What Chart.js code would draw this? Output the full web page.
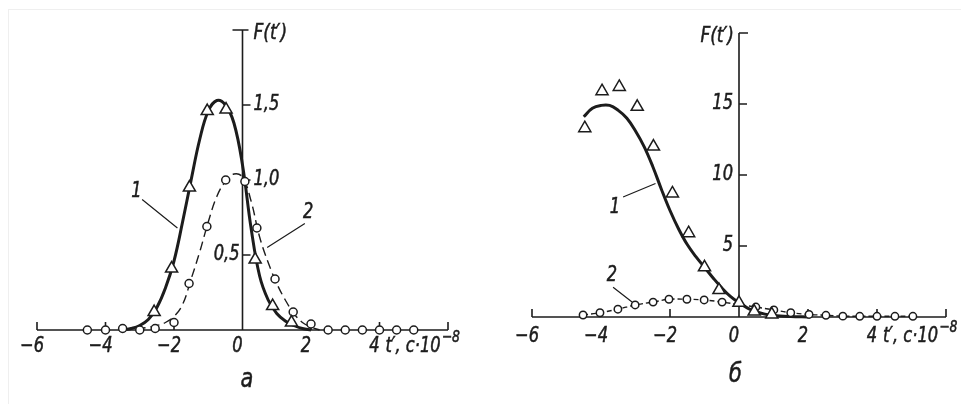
<!DOCTYPE html>
<html>
<head>
<meta charset="utf-8">
<script src="https://cdn.jsdelivr.net/npm/chart.js@4.4.1/dist/chart.umd.min.js"></script>
<style>
  body { margin: 0; background: #fff; }
  #wrap { position: relative; width: 961px; height: 404px; overflow: hidden; background: #fff; }
  #frame { position: absolute; left: 8px; top: 9px; right: -2px; bottom: -2px; border-top: 1px solid #efefef; border-left: 1px solid #efefef; }
  .panel { position: absolute; top: 0; height: 404px; }
</style>
</head>
<body>
<div id="wrap">
  <div id="frame"></div>
  <div class="panel" style="left:0;width:480px"><canvas id="chartA" width="480" height="404"></canvas></div>
  <div class="panel" style="left:480px;width:481px"><canvas id="chartB" width="481" height="404"></canvas></div>
</div>
<script>
const INK = '#1c1c1c';
const FONT = '"Liberation Sans Narrow", "DejaVu Sans Condensed", "DejaVu Sans", sans-serif';
const SX = 0.86; // squeeze text horizontally, the drawing font is narrow

// shared axis texts
const xTickValues = [-6, -4, -2, 0, 2, 4, 6];
const xTickLabels = ['−6', '−4', '−2', '0', '2', '4', ''];
const xUnitText = "t′, c·10";
const xUnitExp = '−8';
const yTitle = "F(t′)";

// panel a
const aYTicks = [0.5, 1.0, 1.5];
const aYLabels = ['0,5', '1,0', '1,5'];
const aYSide = ['left', 'right', 'right'];
const aTriT = [-2.58, -2.07, -1.55, -1.03, -0.48, 0.37, 0.88, 1.43];
const aTriF = [0.12, 0.41, 0.95, 1.46, 1.47, 0.47, 0.16, 0.05];
const aCircT = [-4.53, -4.0, -3.5, -3.0, -2.55, -2.0, -1.56, -1.04, -0.49, 0.07, 0.42, 0.95, 1.48, 2.0, 2.5, 3.0, 3.5, 4.0, 4.5, 5.0];
const aCircF = [0, 0, 0.01, 0, 0.01, 0.05, 0.31, 0.69, 1.0, 0.99, 0.68, 0.34, 0.12, 0.04, 0, 0, 0, 0, 0, 0];
const aCurve1T = [-3.5, -3.25, -3.0, -2.75, -2.5, -2.25, -2.0, -1.75, -1.5, -1.25, -1.0, -0.75, -0.5, -0.25, 0, 0.25, 0.5, 0.75, 1.0, 1.25, 1.5, 1.75, 2.0];
const aCurve1F = [0, 0.01, 0.03, 0.07, 0.15, 0.28, 0.46, 0.72, 1.0, 1.27, 1.46, 1.53, 1.5, 1.38, 1.1, 0.68, 0.36, 0.2, 0.11, 0.06, 0.03, 0.01, 0];
const aCurve2T = [-3.5, -3.0, -2.5, -2.25, -2.0, -1.75, -1.5, -1.25, -1.0, -0.75, -0.5, -0.25, 0, 0.25, 0.5, 0.75, 1.0, 1.25, 1.5, 1.75, 2.0, 2.25];
const aCurve2F = [0, 0.01, 0.03, 0.05, 0.09, 0.17, 0.34, 0.52, 0.72, 0.89, 0.99, 1.04, 1.02, 0.86, 0.62, 0.45, 0.31, 0.2, 0.11, 0.05, 0.02, 0];

// panel b
const bYTicks = [5, 10, 15];
const bYLabels = ['5', '10', '15'];
const bYSide = ['left', 'left', 'left'];
const bTriT = [-4.47, -3.97, -3.47, -2.95, -2.48, -1.93, -1.46, -1.0, -0.58, 0.0, 0.44, 0.95];
const bTriF = [13.3, 15.9, 16.2, 14.8, 12.0, 8.7, 5.9, 3.5, 1.9, 1.0, 0.38, 0.18];
const bCircT = [-4.52, -4.03, -3.51, -3.01, -2.49, -2.03, -1.51, -1.01, -0.49, 0.49, 1.01, 1.5, 2.03, 2.52, 3.01, 3.5, 4.0, 4.52, 5.04];
const bCircF = [0.14, 0.3, 0.55, 0.85, 1.05, 1.25, 1.25, 1.2, 1.05, 0.7, 0.5, 0.3, 0.18, 0.12, 0.06, 0.05, 0.05, 0.05, 0.05];
const bCurve1T = [-4.5, -4.25, -4.0, -3.75, -3.5, -3.25, -3.0, -2.75, -2.5, -2.25, -2.0, -1.75, -1.5, -1.25, -1.0, -0.75, -0.5, -0.25, 0, 0.25, 0.5, 0.75, 1.0, 1.5, 2.0];
const bCurve1F = [14.1, 14.7, 14.9, 14.9, 14.55, 14.0, 13.1, 12.0, 10.6, 9.0, 7.5, 6.2, 5.1, 4.25, 3.5, 2.75, 2.05, 1.45, 1.0, 0.63, 0.37, 0.2, 0.1, 0.03, 0];

function pts(T, F) {
    return T.map((t, i) => ({ x: t, y: F[i] }));
}

function font(size) {
    return 'italic ' + size + 'px ' + FONT;
}

// draws squeezed italic text, returns its drawn width
function drawText(ctx, str, x, y, align, size) {
    ctx.save();
    ctx.font = font(size);
    const w = ctx.measureText(str).width * SX;
    const left = align === 'center' ? x - w / 2 : align === 'right' ? x - w : x;
    ctx.translate(left, y);
    ctx.scale(SX, 1);
    ctx.textAlign = 'left';
    ctx.textBaseline = 'middle';
    ctx.fillStyle = INK;
    ctx.strokeStyle = INK;
    ctx.lineWidth = 0.5;
    ctx.fillText(str, 0, 0);
    ctx.strokeText(str, 0, 0);
    ctx.restore();
    return w;
}

const axesPlugin = {
    id: 'axes',
    beforeDatasetsDraw(chart, args, o) {
        const { ctx } = chart;
        const xs = chart.scales.x, ys = chart.scales.y;
        const px = v => xs.getPixelForValue(v), py = v => ys.getPixelForValue(v);
        const x0 = px(0), y0 = py(0), yTop = py(ys.max);
        ctx.save();
        ctx.strokeStyle = INK;
        ctx.lineWidth = 1.6;
        ctx.beginPath();
        ctx.moveTo(px(xs.min), y0);
        ctx.lineTo(px(xs.max), y0);
        xTickValues.forEach(v => {
            if (v === 0) return;
            ctx.moveTo(px(v), y0);
            ctx.lineTo(px(v), y0 - 8);
        });
        ctx.moveTo(x0, y0);
        ctx.lineTo(x0, yTop);
        o.yTicks.forEach(v => {
            ctx.moveTo(x0, py(v));
            ctx.lineTo(x0 + 8, py(v));
        });
        ctx.moveTo(x0 + o.topTick[0], yTop);
        ctx.lineTo(x0 + o.topTick[1], yTop);
        ctx.stroke();

        // leader lines for curve numbers
        ctx.lineWidth = 1.2;
        ctx.beginPath();
        o.notes.forEach(n => {
            ctx.moveTo(px(n.from[0]), py(n.from[1]));
            ctx.lineTo(px(n.to[0]), py(n.to[1]));
        });
        ctx.stroke();
        ctx.restore();
    },
    afterDatasetsDraw(chart, args, o) {
        const { ctx } = chart;
        const xs = chart.scales.x, ys = chart.scales.y;
        const px = v => xs.getPixelForValue(v), py = v => ys.getPixelForValue(v);
        const x0 = px(0), y0 = py(0), yTop = py(ys.max);
        const ly = y0 + o.xLabelDy;

        xTickValues.forEach((v, i) => {
            if (xTickLabels[i]) drawText(ctx, xTickLabels[i], px(v) - 5, ly, 'center', 21);
        });
        const ux = px(4) + 6;
        const uw = drawText(ctx, xUnitText, ux, ly, 'left', 21);
        drawText(ctx, xUnitExp, ux + uw + 1, ly - 9, 'left', 16);

        o.yTicks.forEach((v, i) => {
            if (o.ySide[i] === 'right') drawText(ctx, o.yLabels[i], x0 + 11, py(v), 'left', 21);
            else drawText(ctx, o.yLabels[i], x0 + o.leftLabelDx, py(v), 'right', 21);
        });

        if (o.titleSide === 'right') drawText(ctx, yTitle, x0 + 11, yTop + 3, 'left', 22);
        else drawText(ctx, yTitle, x0 - 5, yTop + 3, 'right', 22);

        o.notes.forEach(n => drawText(ctx, n.text, px(n.at[0]), py(n.at[1]), 'center', 21));

        drawText(ctx, o.caption, px(o.captionT), y0 + o.captionDy, 'center', 27);
    }
};

function makeChart(id, cfg) {
    return new Chart(document.getElementById(id), {
        type: 'scatter',
        data: {
            datasets: [
                { data: pts(cfg.triT, cfg.triF), pointStyle: 'triangle', pointRadius: 7, borderWidth: 1.5,
                  borderColor: INK, backgroundColor: '#fff', clip: false },
                { data: pts(cfg.circT, cfg.circF), pointStyle: 'circle', pointRadius: cfg.circR, borderWidth: 1.5,
                  borderColor: INK, backgroundColor: '#fff', clip: false },
                { data: pts(cfg.c1T, cfg.c1F), showLine: true, pointRadius: 0, borderWidth: 3,
                  borderColor: INK, tension: 0.4, clip: false },
                { data: pts(cfg.c2T, cfg.c2F), showLine: true, pointRadius: 0, borderWidth: 1.4,
                  borderDash: cfg.c2Dash, borderColor: INK, tension: 0.4, clip: false }
            ]
        },
        options: {
            responsive: false,
            animation: false,
            events: [],
            layout: { padding: cfg.padding },
            scales: {
                x: { type: 'linear', min: -6, max: 6, display: false },
                y: { type: 'linear', min: 0, max: cfg.yMax, display: false }
            },
            plugins: {
                legend: { display: false },
                tooltip: { enabled: false },
                axes: cfg.axes
            }
        },
        plugins: [axesPlugin]
    });
}

makeChart('chartA', {
    triT: aTriT, triF: aTriF, circT: aCircT, circF: aCircF, circR: 4,
    c1T: aCurve1T, c1F: aCurve1F, c2T: aCurve2T, c2F: aCurve2F, c2Dash: [9, 5],
    yMax: 2,
    padding: { left: 37, right: 32, top: 30, bottom: 74 },
    axes: {
        yTicks: aYTicks, yLabels: aYLabels, ySide: aYSide, leftLabelDx: -3,
        topTick: [-10, 6], titleSide: 'right', xLabelDy: 17,
        notes: [
            { text: '1', at: [-3.1, 0.92], from: [-2.93, 0.87], to: [-1.9, 0.68] },
            { text: '2', at: [1.92, 0.78], from: [1.82, 0.71], to: [0.72, 0.55] }
        ],
        caption: 'а', captionT: 0.13, captionDy: 50
    }
});

makeChart('chartB', {
    triT: bTriT, triF: bTriF, circT: bCircT, circF: bCircF, circR: 3.7,
    c1T: bCurve1T, c1F: bCurve1F, c2T: bCircT, c2F: bCircF, c2Dash: [5, 3],
    yMax: 20,
    padding: { left: 52, right: 15, top: 33, bottom: 87 },
    axes: {
        yTicks: bYTicks, yLabels: bYLabels, ySide: bYSide, leftLabelDx: -6,
        topTick: [0, 9], titleSide: 'left', xLabelDy: 20,
        notes: [
            { text: '1', at: [-3.6, 7.7], from: [-3.36, 8.45], to: [-2.42, 9.4] },
            { text: '2', at: [-3.68, 2.9], from: [-3.65, 2.1], to: [-3.1, 1.05] }
        ],
        caption: 'б', captionT: -0.1, captionDy: 58
    }
});
</script>
</body>
</html>
